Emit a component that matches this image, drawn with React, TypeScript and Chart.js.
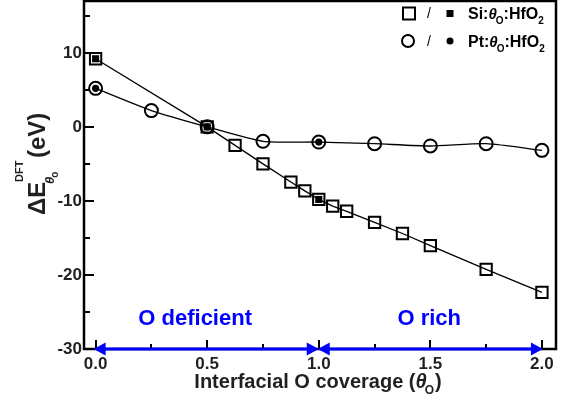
import React, { useEffect, useRef } from "react";
import { Chart, registerables } from "chart.js";

Chart.register(...registerables);

// ---- Data ----
const siX = [0, 0.5, 0.625, 0.75, 0.875, 0.9375, 1.0, 1.0625, 1.125, 1.25, 1.375, 1.5, 1.75, 2.0];
const siY = [9.2, 0, -2.5, -5.0, -7.45, -8.65, -9.8, -10.7, -11.4, -12.9, -14.4, -16.05, -19.25, -22.35];
const siFilledX = [0, 0.5, 1.0];
const siFilledY = [9.2, 0, -9.8];

const ptX = [0, 0.25, 0.5, 0.75, 1.0, 1.25, 1.5, 1.75, 2.0];
const ptY = [5.2, 2.2, 0, -1.95, -2.05, -2.27, -2.58, -2.27, -3.17];
const ptFilledX = [0, 0.5, 1.0];
const ptFilledY = [5.2, 0, -2.05];

const xMajorTicks = [0, 0.5, 1.0, 1.5, 2.0];
const xMinorTicks = [0.25, 0.75, 1.25, 1.75];
const yMajorTicks = [-30, -20, -10, 0, 10];
const yMinorTicks = [-25, -15, -5, 5, 15];

const regionLabels = ["O deficient", "O rich"];
const regionStart = [0, 1.0];
const regionEnd = [1.0, 2.0];

const X_MIN = -0.052;
const X_MAX = 2.063;
const Y_MIN = -30;
const Y_MAX = 17;

const FONT = '"Liberation Sans", Arial, Helvetica, sans-serif';
const TEXT = "#231f20";
const BLUE = "#0000ff";

type Seg = { t: string; size: number; italic?: boolean; dy?: number; dx?: number };

function segFont(s: Seg) {
  return `${s.italic ? "italic " : ""}bold ${s.size}px ${FONT}`;
}

function richWidth(ctx: CanvasRenderingContext2D, segs: Seg[]) {
  let w = 0;
  for (const s of segs) {
    ctx.font = segFont(s);
    w += ctx.measureText(s.t).width + (s.dx || 0);
  }
  return w;
}

function drawRich(ctx: CanvasRenderingContext2D, x: number, y: number, segs: Seg[]) {
  let cx = x;
  ctx.textBaseline = "alphabetic";
  ctx.textAlign = "left";
  for (const s of segs) {
    ctx.font = segFont(s);
    cx += s.dx || 0;
    ctx.fillText(s.t, cx, y + (s.dy || 0));
    cx += ctx.measureText(s.t).width;
  }
  return cx;
}

const decorPlugin = {
  id: "decor",
  afterDatasetsDraw(chart: any) {
    const ctx: CanvasRenderingContext2D = chart.ctx;
    const a = chart.chartArea;
    const xs = chart.scales.x;
    const ys = chart.scales.y;
    ctx.save();
    // frame
    ctx.strokeStyle = "#000";
    ctx.lineWidth = 2.5;
    ctx.strokeRect(a.left, a.top, a.right - a.left, a.bottom - a.top);
    // ticks
    ctx.lineWidth = 2;
    ctx.beginPath();
    for (const v of yMajorTicks) {
      const p = Math.round(ys.getPixelForValue(v));
      ctx.moveTo(a.left, p);
      ctx.lineTo(a.left + 10, p);
    }
    for (const v of yMinorTicks) {
      const p = Math.round(ys.getPixelForValue(v));
      ctx.moveTo(a.left, p);
      ctx.lineTo(a.left + 6, p);
    }
    for (const v of xMajorTicks) {
      const p = Math.round(xs.getPixelForValue(v));
      ctx.moveTo(p, a.bottom);
      ctx.lineTo(p, a.bottom - 9);
    }
    for (const v of xMinorTicks) {
      const p = Math.round(xs.getPixelForValue(v));
      ctx.moveTo(p, a.bottom);
      ctx.lineTo(p, a.bottom - 5);
    }
    ctx.stroke();

    // blue double arrows
    const yA = ys.getPixelForValue(Y_MIN);
    ctx.strokeStyle = BLUE;
    ctx.fillStyle = BLUE;
    ctx.lineWidth = 3;
    const headL = 12;
    const headW = 6.5;
    for (let i = 0; i < regionStart.length; i++) {
      const x1 = xs.getPixelForValue(regionStart[i]) - 2 + i * 1;
      const x2 = xs.getPixelForValue(regionEnd[i]) + 1 - (i === 0 ? 1 : 0);
      ctx.beginPath();
      ctx.moveTo(x1 + headL - 2, yA);
      ctx.lineTo(x2 - headL + 2, yA);
      ctx.stroke();
      ctx.beginPath();
      ctx.moveTo(x1, yA);
      ctx.lineTo(x1 + headL, yA - headW);
      ctx.lineTo(x1 + headL, yA + headW);
      ctx.closePath();
      ctx.fill();
      ctx.beginPath();
      ctx.moveTo(x2, yA);
      ctx.lineTo(x2 - headL, yA - headW);
      ctx.lineTo(x2 - headL, yA + headW);
      ctx.closePath();
      ctx.fill();
    }
    ctx.restore();
  },
  afterDraw(chart: any) {
    const ctx: CanvasRenderingContext2D = chart.ctx;
    const xs = chart.scales.x;
    const ys = chart.scales.y;
    ctx.save();

    // region labels
    ctx.fillStyle = BLUE;
    ctx.font = `bold 22px ${FONT}`;
    ctx.textAlign = "center";
    ctx.textBaseline = "alphabetic";
    const labelX = [0.446, 1.495];
    for (let i = 0; i < regionLabels.length; i++) {
      ctx.fillText(regionLabels[i], xs.getPixelForValue(labelX[i]), ys.getPixelForValue(-26.75));
    }

    // legend
    ctx.fillStyle = "#000";
    ctx.strokeStyle = "#000";
    ctx.lineWidth = 2;
    const lx = 409;
    const rows = [13.5, 41];
    ctx.strokeRect(lx - 6, rows[0] - 6, 12, 12);
    ctx.fillRect(450 - 3.5, rows[0] - 3.5, 7, 7);
    ctx.beginPath();
    ctx.arc(lx - 1, rows[1], 6, 0, Math.PI * 2);
    ctx.stroke();
    ctx.beginPath();
    ctx.arc(450, rows[1], 3.5, 0, Math.PI * 2);
    ctx.fill();
    ctx.font = `14px ${FONT}`;
    ctx.textAlign = "center";
    ctx.textBaseline = "middle";
    ctx.fillText("/", 429, rows[0] + 1);
    ctx.fillText("/", 429, rows[1] + 1);
    const legendNames = ["Si", "Pt"];
    for (let i = 0; i < 2; i++) {
      drawRich(ctx, 468, rows[i] + 5.5, [
        { t: legendNames[i] + ":", size: 16 },
        { t: "θ", size: 15, italic: true },
        { t: "O", size: 10, dy: 5, dx: -1 },
        { t: ":HfO", size: 16 },
        { t: "2", size: 10, dy: 5 },
      ]);
    }

    // x title
    ctx.fillStyle = TEXT;
    const xSegs: Seg[] = [
      { t: "Interfacial O coverage (", size: 20 },
      { t: "θ", size: 20, italic: true },
      { t: "O", size: 12, dy: 6, dx: -2 },
      { t: ")", size: 20, dx: 1 },
    ];
    const xw = richWidth(ctx, xSegs);
    drawRich(ctx, 318 - xw / 2, 388, xSegs);

    // y title (rotated)
    ctx.save();
    ctx.translate(45, 215);
    ctx.rotate(-Math.PI / 2);
    drawRich(ctx, 0, 0, [{ t: "ΔE", size: 24 }]);
    drawRich(ctx, 31, 9, [
      { t: "θ", size: 13, italic: true },
      { t: "o", size: 10, dy: 4, dx: -1 },
    ]);
    drawRich(ctx, 33, -22, [{ t: "DFT", size: 11 }]);
    drawRich(ctx, 57, 0, [{ t: "(eV)", size: 24 }]);
    ctx.restore();

    ctx.restore();
  },
};

function pts(xs: number[], ys: number[]) {
  return xs.map((x, i) => ({ x, y: ys[i] }));
}

export default function App() {
  const ref = useRef<HTMLCanvasElement | null>(null);
  useEffect(() => {
    if (!ref.current) return;
    const chart = new Chart(ref.current, {
      type: "line",
      data: {
        datasets: [
          {
            data: pts(siFilledX, siFilledY),
            showLine: false,
            pointStyle: "rect",
            pointRadius: 5,
            pointBackgroundColor: "#000",
            pointBorderColor: "#000",
            pointBorderWidth: 0,
            order: 0,
          },
          {
            data: pts(ptFilledX, ptFilledY),
            showLine: false,
            pointStyle: "circle",
            pointRadius: 3.6,
            pointBackgroundColor: "#000",
            pointBorderColor: "#000",
            pointBorderWidth: 0,
            order: 1,
          },
          {
            data: pts(siX, siY),
            borderColor: "#000",
            borderWidth: 1.3,
            tension: 0,
            pointStyle: "rect",
            pointRadius: 8,
            pointBorderWidth: 2,
            pointBorderColor: "#000",
            pointBackgroundColor: "rgba(0,0,0,0)",
            order: 2,
          },
          {
            data: pts(ptX, ptY),
            borderColor: "#000",
            borderWidth: 1.3,
            tension: 0.2,
            pointStyle: "circle",
            pointRadius: 6.5,
            pointBorderWidth: 2,
            pointBorderColor: "#000",
            pointBackgroundColor: "rgba(0,0,0,0)",
            order: 3,
          },
        ],
      },
      options: {
        animation: false,
        responsive: false,
        devicePixelRatio: 1,
        layout: { autoPadding: false, padding: { left: 0, right: 12, top: 1, bottom: 0 } },
        plugins: { legend: { display: false }, tooltip: { enabled: false } },
        elements: { line: { fill: false } },
        scales: {
          x: {
            type: "linear",
            min: X_MIN,
            max: X_MAX,
            grid: { display: false, drawTicks: false },
            border: { display: false },
            ticks: {
              stepSize: 0.5,
              includeBounds: false,
              padding: 5,
              maxRotation: 0,
              autoSkip: false,
              color: TEXT,
              font: { family: FONT, size: 17, weight: "bold" },
              callback: (v: any) => Number(v).toFixed(1),
            },
            afterFit: (s: any) => {
              s.height = 54;
              s.paddingLeft = 0;
              s.paddingRight = 0;
            },
          },
          y: {
            type: "linear",
            min: Y_MIN,
            max: Y_MAX,
            grid: { display: false, drawTicks: false },
            border: { display: false },
            ticks: {
              stepSize: 10,
              includeBounds: false,
              padding: 2,
              color: TEXT,
              font: { family: FONT, size: 17, weight: "bold" },
              callback: (v: any) => String(v),
            },
            afterFit: (s: any) => {
              s.width = 84;
              s.paddingTop = 0;
              s.paddingBottom = 0;
            },
          },
        },
      },
      plugins: [decorPlugin],
    } as any);
    return () => chart.destroy();
  }, []);
  return (
    <div style={{ position: "absolute", left: 0, top: 0, width: 568, height: 403, background: "#fff" }}>
      <canvas ref={ref} width={568} height={403} style={{ display: "block" }} />
    </div>
  );
}
